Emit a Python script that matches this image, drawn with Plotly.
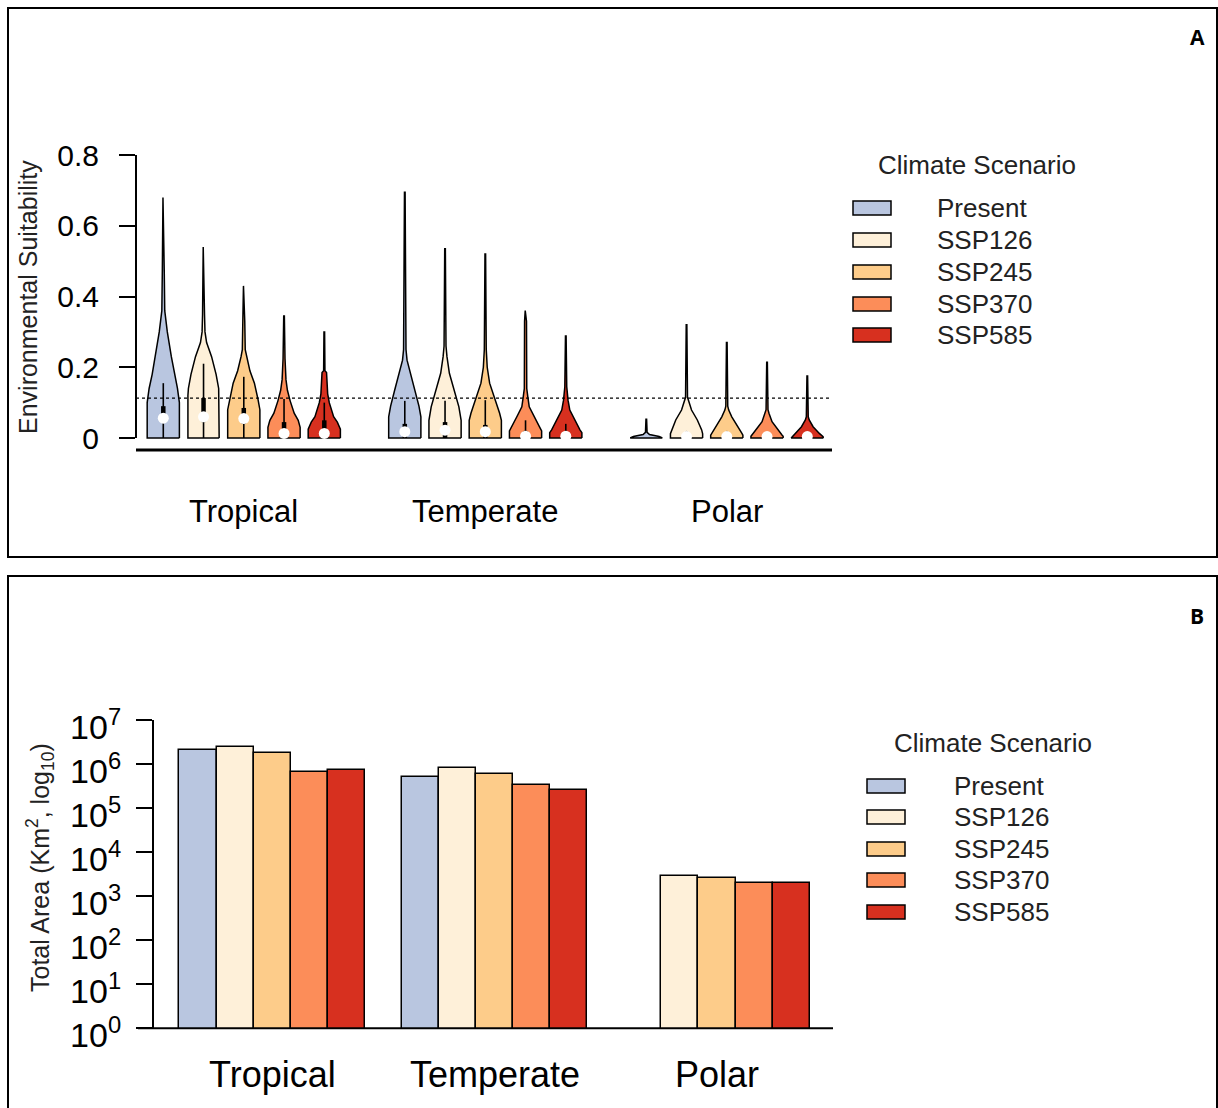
import plotly.graph_objects as go

W, H = 1218, 1108
FONT = "Arial, Liberation Sans, sans-serif"

scenarios = ["Present", "SSP126", "SSP245", "SSP370", "SSP585"]
scenario_colors = ["#B9C6E0", "#FEF0D9", "#FDCC8A", "#FC8D59", "#D7301F"]
regions = ["Tropical", "Temperate", "Polar"]
region_start = [1, 7, 13]          # slot of the first scenario in each region
suitability_threshold = 0.113

# ---- Panel A: violin outlines (suitability level, relative half-width) ----
tropical_levels = [
    [0, 0.10, 0.14, 0.18, 0.23, 0.30, 0.36, 0.47, 0.68],
    [0, 0.12, 0.14, 0.18, 0.23, 0.27, 0.30, 0.35, 0.54],
    [0, 0.08, 0.11, 0.155, 0.19, 0.23, 0.25, 0.33, 0.43],
    [0, 0.03, 0.05, 0.07, 0.105, 0.135, 0.165, 0.225, 0.345],
    [0, 0.025, 0.045, 0.06, 0.10, 0.125, 0.185, 0.19, 0.30],
]
tropical_widths = [
    [1.0, 1.0, 0.88, 0.69, 0.5, 0.25, 0.09, 0.06, 0.02],
    [0.97, 0.97, 0.94, 0.78, 0.5, 0.19, 0.09, 0.06, 0.02],
    [1.0, 1.0, 0.88, 0.66, 0.38, 0.17, 0.09, 0.06, 0.02],
    [1.0, 1.0, 0.88, 0.63, 0.38, 0.21, 0.12, 0.06, 0.02],
    [1.0, 1.0, 0.81, 0.58, 0.31, 0.21, 0.14, 0.04, 0.02],
]
temperate_levels = [
    [0, 0.06, 0.09, 0.135, 0.175, 0.22, 0.25, 0.50, 0.695],
    [0, 0.05, 0.088, 0.136, 0.183, 0.23, 0.26, 0.535],
    [0, 0.05, 0.07, 0.107, 0.155, 0.20, 0.25, 0.52],
    [0, 0.02, 0.032, 0.06, 0.088, 0.117, 0.14, 0.33, 0.36],
    [0, 0.015, 0.023, 0.05, 0.079, 0.107, 0.145, 0.288],
]
temperate_widths = [
    [1.0, 1.0, 0.88, 0.63, 0.42, 0.14, 0.075, 0.06, 0.02],
    [1.0, 1.0, 0.86, 0.58, 0.27, 0.12, 0.06, 0.02],
    [1.0, 1.0, 0.89, 0.63, 0.27, 0.12, 0.06, 0.02],
    [1.0, 1.0, 0.86, 0.54, 0.23, 0.14, 0.075, 0.06, 0.02],
    [1.0, 1.0, 0.88, 0.56, 0.25, 0.14, 0.06, 0.02],
]
polar_levels = [
    [0, 0.004, 0.010, 0.016, 0.053],
    [0, 0.012, 0.023, 0.051, 0.079, 0.107, 0.115, 0.32],
    [0, 0.008, 0.013, 0.037, 0.06, 0.079, 0.09, 0.27],
    [0, 0.005, 0.008, 0.027, 0.046, 0.07, 0.08, 0.214],
    [0, 0.004, 0.013, 0.032, 0.051, 0.06, 0.175],
]
polar_widths = [
    [1.0, 0.8, 0.2, 0.05, 0.02],
    [1.0, 1.0, 0.94, 0.67, 0.31, 0.12, 0.06, 0.02],
    [1.0, 1.0, 0.94, 0.63, 0.31, 0.12, 0.06, 0.02],
    [1.0, 1.0, 0.94, 0.63, 0.31, 0.12, 0.06, 0.02],
    [1.0, 0.98, 0.75, 0.36, 0.12, 0.06, 0.02],
]

# box-plot summaries inside each violin
tropical_upper = [0.155, 0.21, 0.173, 0.11, 0.10]
tropical_q3 = [0.09, 0.113, 0.085, 0.045, 0.05]
tropical_q1 = [0.045, 0.045, 0.04, 0.0, 0.0]
tropical_median = [0.056, 0.06, 0.055, 0.013, 0.013]

temperate_upper = [0.105, 0.105, 0.107, 0.05, 0.04]
temperate_q3 = [0.04, 0.045, 0.037, 0.02, 0.015]
temperate_q1 = [0.0, 0.0, 0.0, 0.0, 0.0]
temperate_median = [0.018, 0.022, 0.018, 0.005, 0.005]

polar_upper = [None, 0.02, 0.02, 0.015, 0.015]
polar_q3 = [None, 0.008, 0.008, 0.006, 0.006]
polar_q1 = [None, 0.0, 0.0, 0.0, 0.0]
polar_median = [None, 0.004, 0.004, 0.004, 0.004]

# ---- Panel B: total suitable area (km2) ----
tropical_area = [2.1e6, 2.47e6, 1.74e6, 6.7e5, 7.3e5]
temperate_area = [5.1e5, 8.0e5, 6.1e5, 3.3e5, 2.6e5]
polar_area = [None, 2.87e3, 2.6e3, 1.95e3, 1.97e3]

VIOLIN_HALF = 0.4


def px(x):
    return x / W


def py(y):
    return 1 - y / H


fig = go.Figure()

region_levels = [tropical_levels, temperate_levels, polar_levels]
region_widths = [tropical_widths, temperate_widths, polar_widths]
region_upper = [tropical_upper, temperate_upper, polar_upper]
region_q3 = [tropical_q3, temperate_q3, polar_q3]
region_q1 = [tropical_q1, temperate_q1, polar_q1]
region_median = [tropical_median, temperate_median, polar_median]

wx, wy, bx, by, mx, my = [], [], [], [], [], []
for r in range(3):
    for s in range(5):
        c = region_start[r] + s
        lv = region_levels[r][s]
        wd = region_widths[r][s]
        xs = [c + VIOLIN_HALF * w for w in wd] + [c - VIOLIN_HALF * w for w in reversed(wd)]
        ys = list(lv) + list(reversed(lv))
        fig.add_trace(go.Scatter(
            x=xs + [xs[0]], y=ys + [ys[0]], mode="lines", fill="toself",
            fillcolor=scenario_colors[s], line=dict(color="black", width=1.5),
            xaxis="x", yaxis="y", showlegend=False, hoverinfo="skip"))
        if region_median[r][s] is not None:
            wx += [c, c, None]
            wy += [0, region_upper[r][s], None]
            bx += [c, c, None]
            by += [region_q1[r][s], region_q3[r][s], None]
            mx.append(c)
            my.append(region_median[r][s])

fig.add_trace(go.Scatter(x=wx, y=wy, mode="lines", line=dict(color="black", width=1.6),
                         xaxis="x", yaxis="y", showlegend=False, hoverinfo="skip"))
fig.add_trace(go.Scatter(x=bx, y=by, mode="lines", line=dict(color="black", width=4.5),
                         xaxis="x", yaxis="y", showlegend=False, hoverinfo="skip"))
fig.add_trace(go.Scatter(x=mx, y=my, mode="markers",
                         marker=dict(color="white", size=11, line=dict(width=0)),
                         xaxis="x", yaxis="y", showlegend=False, hoverinfo="skip"))

# ---- Panel B bars ----
region_area = [tropical_area, temperate_area, polar_area]
for s in range(5):
    fig.add_trace(go.Bar(
        x=[region_start[r] + s for r in range(3)],
        y=[region_area[r][s] for r in range(3)],
        width=1.0, marker=dict(color=scenario_colors[s], line=dict(color="black", width=1.5)),
        name=scenarios[s], xaxis="x2", yaxis="y2", showlegend=False, hoverinfo="skip"))

shapes = []
annotations = []

# panel frames
shapes.append(dict(type="rect", xref="paper", yref="paper", x0=px(8), x1=px(1217),
                   y0=py(557), y1=py(8), line=dict(color="black", width=2)))
shapes.append(dict(type="rect", xref="paper", yref="paper", x0=px(8), x1=px(1217),
                   y0=py(1114), y1=py(576), line=dict(color="black", width=2)))

# panel A axis lines and threshold
shapes.append(dict(type="line", xref="paper", yref="y", x0=px(136), x1=px(136), y0=0, y1=0.8,
                   line=dict(color="black", width=2)))
shapes.append(dict(type="line", xref="paper", yref="paper", x0=px(136), x1=px(832),
                   y0=py(450), y1=py(450), line=dict(color="black", width=3)))
shapes.append(dict(type="line", xref="x domain", yref="y", x0=0, x1=1,
                   y0=suitability_threshold, y1=suitability_threshold,
                   line=dict(color="black", width=1.3, dash="dot")))
# panel B baseline
shapes.append(dict(type="line", xref="paper", yref="paper", x0=px(138), x1=px(833),
                   y0=py(1028.3), y1=py(1028.3), line=dict(color="black", width=2)))

# category labels
for r, name in enumerate(regions):
    annotations.append(dict(x=region_start[r] + 2, y=py(511), xref="x", yref="paper",
                            text=name, showarrow=False, xanchor="center", yanchor="middle",
                            font=dict(family=FONT, size=31, color="black")))
    annotations.append(dict(x=region_start[r] + 2, y=py(1074), xref="x2", yref="paper",
                            text=name, showarrow=False, xanchor="center", yanchor="middle",
                            font=dict(family=FONT, size=36, color="black")))

# axis titles
annotations.append(dict(x=px(28), y=py(297), xref="paper", yref="paper",
                        text="Environmental Suitability", textangle=-90, showarrow=False,
                        xanchor="center", yanchor="middle",
                        font=dict(family=FONT, size=25, color="#222222")))
annotations.append(dict(x=px(40), y=py(868), xref="paper", yref="paper",
                        text="Total Area (Km<sup>2</sup>, log<sub>10</sub>)", textangle=-90,
                        xanchor="center", yanchor="middle",
                        showarrow=False, font=dict(family=FONT, size=25, color="#222222")))

# panel letters
for letter, yy in (("A", 37), ("B", 616)):
    annotations.append(dict(x=px(1197), y=py(yy), xref="paper", yref="paper", text=f"<b>{letter}</b>",
                            xanchor="center", yanchor="middle", showarrow=False,
                            font=dict(family="Open Sans, Arial", size=21, color="black")))

# legends
legend_specs = [
    dict(title_xy=(977, 165), box_x=(853, 891), text_x=935, rows=[208, 240, 272, 304, 335]),
    dict(title_xy=(993, 743), box_x=(867, 905), text_x=952, rows=[786, 817, 849, 880, 912]),
]
for spec in legend_specs:
    annotations.append(dict(x=px(spec["title_xy"][0]), y=py(spec["title_xy"][1]),
                            xref="paper", yref="paper", text="Climate Scenario", showarrow=False,
                            xanchor="center", yanchor="middle",
                            font=dict(family=FONT, size=26, color="#222222")))
    for s, yy in enumerate(spec["rows"]):
        shapes.append(dict(type="rect", xref="paper", yref="paper",
                           x0=px(spec["box_x"][0]), x1=px(spec["box_x"][1]),
                           y0=py(yy + 7), y1=py(yy - 7), fillcolor=scenario_colors[s],
                           line=dict(color="black", width=1.5)))
        annotations.append(dict(x=px(spec["text_x"]), y=py(yy), xref="paper", yref="paper",
                                text=scenarios[s], showarrow=False, xanchor="left", yanchor="middle",
                                font=dict(family=FONT, size=26, color="#222222")))

fig.update_layout(
    width=W, height=H, autosize=False,
    margin=dict(l=0, r=0, t=0, b=0, pad=0),
    paper_bgcolor="white", plot_bgcolor="rgba(0,0,0,0)",
    barmode="overlay", bargap=0,
    shapes=shapes, annotations=annotations,
    xaxis=dict(domain=[px(136), px(832)], range=[0.322, 17.614], visible=False, automargin=False),
    yaxis=dict(domain=[py(450), py(155)], range=[-0.0339, 0.8], automargin=False,
               tickvals=[0, 0.2, 0.4, 0.6, 0.8], ticktext=["0", "0.2", "0.4", "0.6", "0.8"],
               ticks="outside", ticklen=16, tickwidth=2, tickcolor="black",
               showline=False, showgrid=False, zeroline=False, ticklabelstandoff=14,
               tickfont=dict(family=FONT, size=30, color="black")),
    xaxis2=dict(domain=[px(154), px(833)], range=[-0.187, 18.13], visible=False, anchor="y2",
                automargin=False),
    yaxis2=dict(domain=[py(1028.3), py(720)], type="log", range=[0, 7], anchor="x2",
                automargin=False,
                tickvals=[10 ** k for k in range(8)],
                ticktext=[f"10<sup>{k}</sup>" for k in range(8)],
                ticks="outside", ticklen=16, tickwidth=2, tickcolor="black",
                showline=True, linecolor="black", linewidth=2,
                showgrid=False, zeroline=False, ticklabelstandoff=8, ticklabelshift=7,
                tickfont=dict(family=FONT, size=34, color="black")),
)

fig.write_html("out.html")
